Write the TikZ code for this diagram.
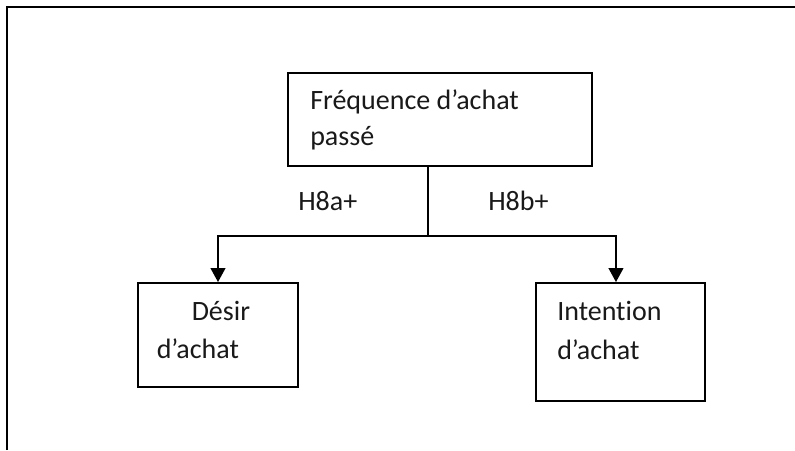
\documentclass[tikz,border=0pt]{standalone}
\usepackage{fontspec}
\setmainfont{Carlito}[Ligatures=NoCommon]
\usetikzlibrary{arrows.meta}
\begin{document}
\begin{tikzpicture}[x=0.75pt,y=-0.75pt,
  frame/.style={line width=1.7pt,draw=black},
  box/.style={draw=black,line width=1.4pt,rectangle,inner sep=0pt},
  txt/.style={anchor=base west,inner sep=0pt,text=black!90,font=\fontsize{21}{27}\selectfont},
  conn/.style={line width=1.5pt,draw=black},
  arr/.style={conn,-{Triangle[length=10.5pt,width=11pt]}}]
\useasboundingbox (0,0) rectangle (795,450);
% outer frame (only left and top sides visible)
\draw[frame] (7,450) -- (7,7) -- (795,7);
% boxes
\node[box,minimum width=228pt,minimum height=69.75pt] (top) at (440,119.5) {};
\node[box,minimum width=120pt,minimum height=78pt] (desir) at (218,335) {};
\node[box,minimum width=126.75pt,minimum height=88.5pt] (intent) at (620.5,342) {};
% texts
\node[txt] (t1) at (310,109.5) {Fréquence d’achat};
\node[txt] (t2) at (310,145) {passé};
\node[txt] (d1) at (191.5,320.5) {Désir};
\node[txt] (d2) at (156.5,358.5) {d’achat};
\node[txt] (i1) at (557,320.5) {Intention};
\node[txt] (i2) at (557,359.5) {d’achat};
\node[txt] (h8a) at (298,210) {H8a+};
\node[txt] (h8b) at (488,210) {H8b+};
% connectors
\coordinate (j) at (428,236);
\draw[conn] (top.south -| j) -- (j);
\draw[arr] (j) -| (desir.north);
\draw[arr] (j) -| ([xshift=-3.4pt]intent.north);
\end{tikzpicture}
\end{document}
